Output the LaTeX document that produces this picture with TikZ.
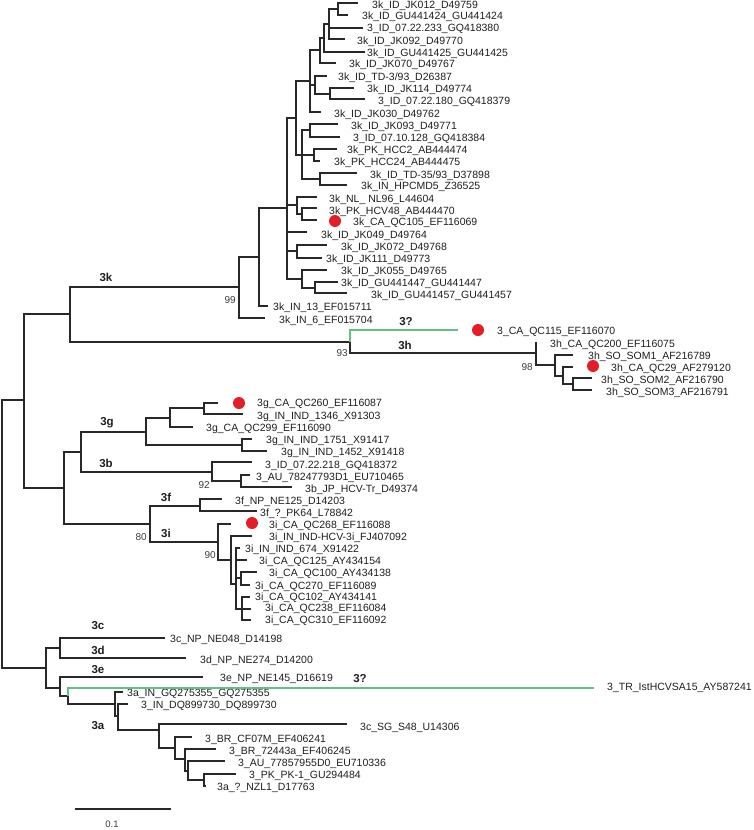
\documentclass[tikz,border=0pt]{standalone}
\usepackage{fontspec}
\setmainfont{Liberation Sans}
\definecolor{linec}{RGB}{40,40,40}
\definecolor{greenc}{RGB}{100,190,135}
\definecolor{redc}{RGB}{228,30,38}
\definecolor{textc}{RGB}{30,30,30}
\definecolor{bootc}{RGB}{60,60,60}
\begin{document}
\begin{tikzpicture}[x=1pt,y=-1pt,
  br/.style={draw=linec, line width=1.2pt},
  gbr/.style={draw=greenc, line width=1.4pt},
  leaf/.style={anchor=west, inner sep=0pt, font=\fontsize{10.5}{12}\selectfont, text=textc},
  clade/.style={inner sep=0pt, font=\fontsize{11.5}{13}\selectfont\bfseries, text=textc},
  boot/.style={anchor=east, inner sep=0pt, font=\fontsize{10}{12}\selectfont, text=bootc},
  dot/.style={circle, fill=redc, inner sep=0pt, minimum size=12pt}]
\useasboundingbox (0,0) rectangle (754,830);
% ---------- internal nodes ----------
\coordinate (r) at (2,534);
\coordinate (A) at (24,400);
\coordinate (B) at (70,314);
\coordinate (K) at (239,287);
\coordinate (n259) at (259,257);
\coordinate (n287) at (287,208);
\coordinate (a7) at (296,118);
\coordinate (a5) at (310,81);
\coordinate (a4) at (320,50);
\coordinate (a3) at (324,38);
\coordinate (a2) at (329,24);
\coordinate (a1) at (338,9);
\coordinate (b2) at (315,85);
\coordinate (b1) at (330,94);
\coordinate (c4) at (302,155);
\coordinate (c1) at (310,130);
\coordinate (c2) at (314,155);
\coordinate (c3) at (320,179);
\coordinate (d2) at (297,205);
\coordinate (d1) at (302,214);
\coordinate (e1) at (297,251);
\coordinate (f2) at (302,279);
\coordinate (f1) at (315,288);
\coordinate (n350) at (350,342);
\coordinate (n536) at (536,353);
\coordinate (n555) at (555,365);
\coordinate (n563) at (563,376);
\coordinate (n573) at (573,384);
\coordinate (C) at (64,488);
\coordinate (D) at (81,452);
\coordinate (G) at (146,432);
\coordinate (G1) at (170,418);
\coordinate (G0) at (204,408);
\coordinate (G2) at (242,445);
\coordinate (H) at (212,472);
\coordinate (H2) at (241,481);
\coordinate (E) at (150,524);
\coordinate (F) at (200,506);
\coordinate (i1) at (218,542);
\coordinate (i2) at (231,560);
\coordinate (i3) at (236,584);
\coordinate (i4) at (241,578);
\coordinate (i5) at (242,609);
\coordinate (bot) at (46,668);
\coordinate (P1) at (60,648);
\coordinate (P2) at (60,688);
\coordinate (P3) at (68,696);
\coordinate (g1) at (115,704);
\coordinate (g2) at (118,716);
\coordinate (g3) at (159,730);
\coordinate (g4) at (175,748);
\coordinate (g5) at (185,759);
\coordinate (g6) at (188,771);
\coordinate (g7) at (204,780);
% ---------- leaves: branch end / label ----------
\foreach \i/\ex/\ey/\tx/\ty/\lab in {
 0/358/3/372/6/3k\_ID\_JK012\_D49759,
 1/348/15/362/17/3k\_ID\_GU441424\_GU441424,
 2/363/28/367/29/3\_ID\_07.22.233\_GQ418380,
 3/345/39/357/42/3k\_ID\_JK092\_D49770,
 4/365/52/367/54/3k\_ID\_GU441425\_GU441425,
 5/336/63/349/65/3k\_ID\_JK070\_D49767,
 6/327/76/338/78/3k\_ID\_TD-3{/}93\_D26387,
 7/354/88/367/90/3k\_ID\_JK114\_D49774,
 8/365/99/378/102/3\_ID\_07.22.180\_GQ418379,
 9/321/112/334/115/3k\_ID\_JK030\_D49762,
 10/338/124/351/127/3k\_ID\_JK093\_D49771,
 11/340/137/353/139/3\_ID\_07.10.128\_GQ418384,
 12/337/149/347/151/3k\_PK\_HCC2\_AB444474,
 13/320/161/334/163/3k\_PK\_HCC24\_AB444475,
 14/357/173/370/176/3k\_ID\_TD-35{/}93\_D37898,
 15/347/185/361/187/3k\_IN\_HPCMD5\_Z36525,
 16/317/197/329/200/3k\_NL\_ NL96\_L44604,
 17/317/208/329/212/3k\_PK\_HCV48\_AB444470,
 18/317/220/353/223/3k\_CA\_QC105\_EF116069,
 19/307/232/321/236/3k\_ID\_JK049\_D49764,
 20/327/245/341/248/3k\_ID\_JK072\_D49768,
 21/322/258/326/260/3k\_ID\_JK111\_D49773,
 22/327/270/341/272/3k\_ID\_JK055\_D49765,
 23/338/282/341/284/3k\_ID\_GU441447\_GU441447,
 24/347/293/371/296/3k\_ID\_GU441457\_GU441457,
 25/268/306/273/308/3k\_IN\_13\_EF015711,
 26/265/318/279/321/3k\_IN\_6\_EF015704,
 27/458/330/497/332/3\_CA\_QC115\_EF116070,
 28/536/342/550/345/3h\_CA\_QC200\_EF116075,
 29/573/355/588/357/3h\_SO\_SOM1\_AF216789,
 30/573/367/611/369/3h\_CA\_QC29\_AF279120,
 31/592/378/601/381/3h\_SO\_SOM2\_AF216790,
 32/592/390/606/393/3h\_SO\_SOM3\_AF216791,
 33/218/403/257/404/3g\_CA\_QC260\_EF116087,
 34/243/414/257/417/3g\_IN\_IND\_1346\_X91303,
 35/193/427/206/429/3g\_CA\_QC299\_EF116090,
 36/252/439/266/441/3g\_IN\_IND\_1751\_X91417,
 37/267/451/281/453/3g\_IN\_IND\_1452\_X91418,
 38/252/462/265/466/3\_ID\_07.22.218\_GQ418372,
 39/250/475/256/478/3\_AU\_78247793D1\_EU710465,
 40/292/487/305/490/3b\_JP\_HCV-Tr\_D49374,
 41/222/499/235/502/3f\_NP\_NE125\_D14203,
 42/257/511/260/514/3f\_?\_PK64\_L78842,
 43/231/524/269/526/3i\_CA\_QC268\_EF116088,
 44/252/536/269/538/3i\_IN\_IND-HCV-3i\_FJ407092,
 45/240/548/245/550/3i\_IN\_IND\_674\_X91422,
 46/247/560/259/562/3i\_CA\_QC125\_AY434154,
 47/257/572/269/574/3i\_CA\_QC100\_AY434138,
 48/250/585/255/587/3i\_CA\_QC270\_EF116089,
 49/250/597/255/598/3i\_CA\_QC102\_AY434141,
 50/251/609/265/609/3i\_CA\_QC238\_EF116084,
 51/251/620/265/621/3i\_CA\_QC310\_EF116092,
 52/165/638/170/640/3c\_NP\_NE048\_D14198,
 53/186/658/200/661/3d\_NP\_NE274\_D14200,
 54/203/677/220/679/3e\_NP\_NE145\_D16619,
 55/594/688/607/688/3\_TR\_IstHCVSA15\_AY587241,
 56/123/692/127/694/3a\_IN\_GQ275355\_GQ275355,
 57/128/704/141/706/3\_IN\_DQ899730\_DQ899730,
 58/347/724/360/728/3c\_SG\_S48\_U14306,
 59/192/737/205/740/3\_BR\_CF07M\_EF406241,
 60/216/749/229/752/3\_BR\_72443a\_EF406245,
 61/225/761/238/764/3\_AU\_77857955D0\_EU710336,
 62/236/774/249/776/3\_PK\_PK-1\_GU294484,
 63/206/786/217/788/3a\_?\_NZL1\_D17763}
 {\coordinate (l\i) at (\ex,\ey);
  \node[leaf] (t\i) at (\tx,\ty) {\lab};}
% ---------- branches ----------
\foreach \p/\c in {r/A, r/bot, A/B, A/C, B/K, B/n350, K/n259, K/l26,
  n259/n287, n259/l25, n287/a7, n287/d2, n287/l19, n287/e1, n287/f2,
  a7/a5, a7/c4, a5/a4, a5/b2, a5/l9, a4/a3, a4/l5, a3/a2, a3/l4,
  a2/a1, a2/l2, a2/l3, a1/l0, a1/l1, b2/l6, b2/b1, b1/l7, b1/l8,
  c4/c1, c4/c2, c4/c3, c1/l10, c1/l11, c2/l12, c2/l13, c3/l14, c3/l15,
  d2/l16, d2/d1, d1/l17, d1/l18, e1/l20, e1/l21, f2/l22, f2/f1, f1/l23, f1/l24,
  n350/n536, n536/l28, n536/n555, n555/l29, n555/n563, n563/l30, n563/n573,
  n573/l31, n573/l32,
  C/D, C/E, D/G, D/H, G/G1, G/G2, G1/G0, G1/l35, G0/l33, G0/l34,
  G2/l36, G2/l37, H/l38, H/H2, H2/l39, H2/l40,
  E/F, E/i1, F/l41, F/l42, i1/l43, i1/i2, i2/l44, i2/i3,
  i3/l45, i3/l46, i3/i4, i3/i5, i4/l47, i4/l48, i5/l49, i5/l50, i5/l51,
  bot/P1, bot/P2, P1/l52, P1/l53, P2/l54, P2/P3, P3/g1,
  g1/l56, g1/g2, g2/l57, g2/g3, g3/l58, g3/g4, g4/l59, g4/g5,
  g5/l60, g5/g6, g6/l61, g6/g7, g7/l62, g7/l63}
 {\draw[br] (\p) |- (\c);}
\draw[gbr] (n350) |- (l27);
\draw[gbr] (P3) |- (l55);
% ---------- red dots ----------
\node[dot] (dot1) at (335,221) {};
\node[dot] (dot2) at (478,330) {};
\node[dot] (dot3) at (593,366) {};
\node[dot] (dot4) at (239,403) {};
\node[dot] (dot5) at (252,523) {};
% ---------- clade labels ----------
\node[clade] (c3k) at (106,277) {3k};
\node[clade] (c3qa) at (406,322) {3?};
\node[clade] (c3h) at (405,345) {3h};
\node[clade] (c3g) at (107,423) {3g};
\node[clade] (c3b) at (106,463) {3b};
\node[clade] (c3f) at (166,497) {3f};
\node[clade] (c3i) at (166,533) {3i};
\node[clade] (c3c) at (98,626) {3c};
\node[clade] (c3d) at (98,650) {3d};
\node[clade] (c3e) at (98,670) {3e};
\node[clade] (c3qb) at (360,679) {3?};
\node[clade] (c3a) at (98,726) {3a};
% ---------- bootstrap ----------
\node[boot] (b99) at (236,300) {99};
\node[boot] (b93) at (348,353) {93};
\node[boot] (b98) at (533,367) {98};
\node[boot] (b92) at (210,485) {92};
\node[boot] (b80) at (147,537) {80};
\node[boot] (b90) at (216,555) {90};
% ---------- scale bar ----------
\coordinate (sb1) at (75,809);
\coordinate (sb2) at (171,809);
\draw[br] (sb1) -- (sb2);
\node[inner sep=0pt, font=\fontsize{9.5}{11}\selectfont, text=bootc] (sbl) at (112,824) {0.1};
\end{tikzpicture}
\end{document}
